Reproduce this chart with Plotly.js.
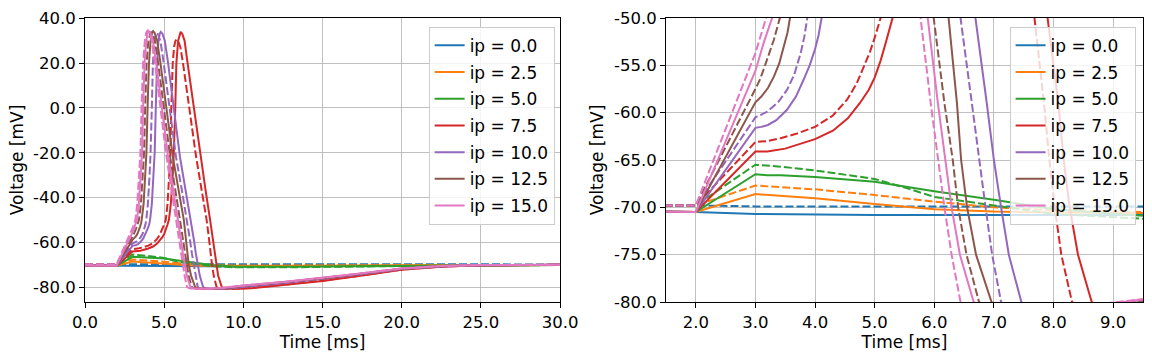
<!DOCTYPE html>
<html>
<head>
<meta charset="utf-8">
<script src="https://cdn.plot.ly/plotly-3.0.1.min.js"></script>
<style>
  html, body { margin: 0; padding: 0; background: #fff; }
  #chart { width: 1152px; height: 360px; }
</style>
</head>
<body>
<div id="chart"></div>
<script>
// time [ms] / voltage [mV], solid (s) and dashed (d) run for each ip
const t00s = [0, 2, 3, 5, 10, 15, 20, 30];
const v00s = [-70.4, -70.5, -70.7, -70.8, -70.8, -70.6, -70.4, -70.2];
const t00d = [0, 2, 3, 10, 20, 30];
const v00d = [-69.8, -69.8, -69.9, -69.9, -69.9, -69.9];

const t25s = [0, 2, 3, 3.42, 4, 5, 6, 7, 8, 9.5, 12, 15, 20, 30];
const v25s = [-70.4, -70.5, -68.6, -68.8, -69.05, -69.65, -70.2, -70.45, -70.55, -70.6, -70.6, -70.5, -70.3, -70.2];
const t25d = [0, 2, 3, 3.42, 4, 5, 6, 7, 8, 9.5, 12, 15, 20, 30];
const v25d = [-69.8, -69.8, -67.7, -67.9, -68.1, -68.7, -69.4, -70.0, -70.3, -70.5, -70.5, -70.4, -70.3, -70.2];

const t50s = [0, 2, 3, 3.2, 3.42, 4, 5, 6, 7, 8, 9.5, 11, 13, 15, 20, 25, 30];
const v50s = [-70.4, -70.5, -66.5, -66.6, -66.6, -66.8, -67.3, -68.3, -69.2, -70.2, -70.9, -71.0, -71.0, -70.8, -70.5, -70.3, -70.2];
const t50d = [0, 2, 3, 3.42, 4, 5, 5.55, 6, 7, 8, 9.5, 11, 13, 15, 20, 25, 30];
const v50d = [-69.8, -69.8, -65.5, -65.7, -66.1, -67.0, -68.0, -68.9, -69.8, -70.7, -71.2, -71.3, -71.2, -71.0, -70.6, -70.3, -70.2];

const t75s = [0, 2, 3, 3.2, 3.5, 4, 4.3, 4.55, 4.75, 4.9, 5, 5.1, 5.2, 5.3, 5.42, 5.53, 5.61, 5.7, 5.77, 5.88, 5.97, 6.04, 6.14, 6.29, 6.47, 7.3, 7.6, 7.9, 8.08, 8.17, 8.27, 8.41, 8.64, 8.8, 9.0, 9.3, 9.8, 10.5, 12.5, 15, 17.5, 20, 22.5, 25, 30];
const v75s = [-70.4, -70.5, -64.1, -64.1, -63.8, -62.8, -61.9, -60.6, -59.0, -57.6, -56.3, -54.5, -52.3, -50, -43, -31, -20, 0, 20, 30, 33.2, 34.0, 33.2, 30.0, 20.5, -22, -36, -50, -59, -65, -70, -75, -80, -80.6, -80.8, -80.9, -80.8, -80.6, -79.2, -77.3, -74.9, -72.3, -70.9, -70.3, -70.1];
const t75d = [0, 2, 3, 3.2, 3.42, 3.7, 4, 4.3, 4.54, 4.7, 4.82, 4.92, 5.0, 5.1, 5.21, 5.31, 5.39, 5.45, 5.54, 5.63, 5.71, 5.78, 5.88, 6.03, 6.23, 7.02, 7.35, 7.68, 7.84, 7.93, 8.02, 8.13, 8.31, 8.47, 8.67, 8.97, 9.47, 10, 12.5, 15, 17.5, 20, 22.5, 25, 30];
const v75d = [-69.8, -69.8, -63.1, -63.0, -62.7, -62.2, -61.5, -60.3, -58.6, -56.9, -55.1, -53.6, -52.1, -50, -43, -31, -20, 0, 20, 27.5, 30.0, 30.6, 29.9, 27.0, 18.0, -22, -36, -50, -59, -65, -70, -75, -80, -80.6, -80.8, -80.9, -80.8, -80.6, -79.0, -77.1, -74.8, -72.2, -70.8, -70.3, -70.1];

const t100s = [0, 2, 3, 3.1, 3.21, 3.35, 3.53, 3.68, 3.81, 3.91, 4.0, 4.06, 4.11, 4.22, 4.32, 4.40, 4.47, 4.55, 4.64, 4.72, 4.79, 4.89, 5.04, 5.24, 6.0, 6.35, 6.69, 6.88, 7.0, 7.12, 7.25, 7.46, 7.62, 7.82, 8.12, 8.62, 9.4, 10, 12.5, 15, 17.5, 20, 22.5, 25, 30];
const v100s = [-70.4, -70.5, -61.6, -61.5, -61.3, -60.8, -59.7, -58.3, -56.5, -55.0, -53.3, -51.8, -50, -43, -31, -20, 0, 20, 30, 33.2, 34.0, 33.2, 30.0, 20.5, -22, -36, -50, -59, -65, -70, -75, -80, -80.6, -80.8, -80.9, -80.8, -80.5, -80.0, -78.3, -76.4, -74.3, -72.0, -70.8, -70.3, -70.1];
const t100d = [0, 2, 3, 3.2, 3.38, 3.53, 3.65, 3.76, 3.82, 3.87, 3.97, 4.07, 4.14, 4.22, 4.29, 4.38, 4.46, 4.52, 4.62, 4.77, 4.97, 5.75, 6.10, 6.44, 6.63, 6.75, 6.86, 6.97, 7.12, 7.28, 7.48, 7.78, 8.28, 9.1, 10, 12.5, 15, 17.5, 20, 22.5, 25, 30];
const v100d = [-69.8, -69.8, -60.5, -59.9, -58.9, -57.6, -56.0, -53.7, -52.0, -50, -43, -31, -20, 0, 20, 30, 32.8, 33.6, 32.8, 29.6, 20.1, -22, -36, -50, -59, -65, -70, -75, -80, -80.6, -80.8, -80.9, -80.8, -80.5, -79.6, -78.1, -76.3, -74.2, -71.9, -70.7, -70.2, -70.1];

const t125s = [0, 2, 3, 3.1, 3.21, 3.31, 3.4, 3.48, 3.54, 3.58, 3.70, 3.80, 3.88, 3.95, 4.04, 4.14, 4.23, 4.30, 4.40, 4.55, 4.75, 5.55, 5.90, 6.24, 6.38, 6.45, 6.55, 6.70, 6.96, 7.12, 7.32, 7.62, 8.12, 9.0, 10, 12.5, 15, 17.5, 20, 22.5, 25, 30];
const v125s = [-70.4, -70.5, -58.9, -58.3, -57.4, -56.2, -54.8, -53.0, -51.5, -50, -43, -31, -20, 0, 20, 30, 33.5, 34.3, 33.5, 30.3, 20.8, -22, -36, -50, -59, -65, -70, -75, -80, -80.6, -80.8, -80.9, -80.8, -80.4, -79.5, -78.0, -76.2, -74.1, -71.8, -70.7, -70.2, -70.1];
const t125d = [0, 2, 3, 3.07, 3.14, 3.23, 3.31, 3.41, 3.53, 3.64, 3.73, 3.80, 3.89, 4.0, 4.09, 4.16, 4.26, 4.41, 4.61, 5.38, 5.69, 5.99, 6.17, 6.31, 6.40, 6.54, 6.75, 6.91, 7.11, 7.41, 7.91, 8.8, 10, 12.5, 15, 17.5, 20, 22.5, 25, 30];
const v125d = [-69.8, -69.8, -57.5, -56.6, -55.4, -53.8, -52.3, -50, -43, -31, -20, 0, 20, 30, 33.2, 34.0, 33.2, 30.0, 20.5, -22, -36, -50, -59, -65, -70, -75, -80, -80.6, -80.8, -80.9, -80.8, -80.4, -79.4, -77.9, -76.1, -74.0, -71.8, -70.6, -70.2, -70.1];

const t150s = [0, 2, 3, 3.14, 3.28, 3.40, 3.51, 3.60, 3.67, 3.76, 3.87, 3.96, 4.03, 4.13, 4.28, 4.48, 5.25, 5.57, 5.89, 6.06, 6.18, 6.29, 6.43, 6.66, 6.82, 7.02, 7.32, 7.82, 8.7, 10, 12.5, 15, 17.5, 20, 22.5, 25, 30];
const v150s = [-70.4, -70.5, -55.6, -52.6, -50, -43, -31, -20, 0, 20, 30, 33.5, 34.3, 33.5, 30.3, 20.8, -22, -36, -50, -59, -65, -70, -75, -80, -80.6, -80.8, -80.9, -80.8, -80.4, -79.3, -77.8, -76.0, -73.9, -71.7, -70.6, -70.2, -70.1];
const t150d = [0, 2, 3, 3.1, 3.18, 3.30, 3.42, 3.50, 3.57, 3.67, 3.78, 3.87, 3.95, 4.05, 4.20, 4.40, 5.15, 5.46, 5.77, 5.94, 6.06, 6.17, 6.29, 6.44, 6.60, 6.80, 7.10, 7.60, 8.5, 10, 12.5, 15, 17.5, 20, 22.5, 25, 30];
const v150d = [-69.8, -69.8, -53.7, -51.6, -50, -43, -31, -20, 0, 20, 30, 33.8, 34.6, 33.8, 30.6, 21.1, -22, -36, -50, -59, -65, -70, -75, -80, -80.6, -80.8, -80.9, -80.8, -80.4, -79.3, -77.8, -76.0, -73.9, -71.7, -70.6, -70.2, -70.1];

const ipLabels = ['0.0', '2.5', '5.0', '7.5', '10.0', '12.5', '15.0'];
const colors = ['#1f77b4', '#ff7f0e', '#2ca02c', '#d62728', '#9467bd', '#8c564b', '#e377c2'];

// tick labels
const leftXTicks = [0, 5, 10, 15, 20, 25, 30];
const leftXText = ['0.0', '5.0', '10.0', '15.0', '20.0', '25.0', '30.0'];
const leftYTicks = [-80, -60, -40, -20, 0, 20, 40];
const leftYText = ['-80.0', '-60.0', '-40.0', '-20.0', '0.0', '20.0', '40.0'];
const rightXTicks = [2, 3, 4, 5, 6, 7, 8, 9];
const rightXText = ['2.0', '3.0', '4.0', '5.0', '6.0', '7.0', '8.0', '9.0'];
const rightYTicks = [-80, -75, -70, -65, -60, -55, -50];
const rightYText = ['-80.0', '-75.0', '-70.0', '-65.0', '-60.0', '-55.0', '-50.0'];

const runs = [
  [t00s, v00s, t00d, v00d],
  [t25s, v25s, t25d, v25d],
  [t50s, v50s, t50d, v50d],
  [t75s, v75s, t75d, v75d],
  [t100s, v100s, t100d, v100d],
  [t125s, v125s, t125d, v125d],
  [t150s, v150s, t150d, v150d]
];

const traces = [];
[['x', 'y', 'legend'], ['x2', 'y2', 'legend2']].forEach(([xa, ya, leg]) => {
  runs.forEach((r, i) => {
    traces.push({
      x: r[0], y: r[1], type: 'scatter', mode: 'lines',
      name: 'ip = ' + ipLabels[i], legendgroup: leg + i, legend: leg,
      line: { color: colors[i], width: 2 },
      xaxis: xa, yaxis: ya, hoverinfo: 'skip'
    });
    traces.push({
      x: r[2], y: r[3], type: 'scatter', mode: 'lines',
      name: 'ip = ' + ipLabels[i], legendgroup: leg + i, legend: leg, showlegend: false,
      line: { color: colors[i], width: 2, dash: '8px,3px' },
      xaxis: xa, yaxis: ya, hoverinfo: 'skip'
    });
  });
});

const axisStyle = {
  showgrid: true, gridcolor: '#b0b0b0', gridwidth: 0.8,
  showline: true, linecolor: '#000', linewidth: 1, mirror: true,
  ticks: 'outside', ticklen: 5, tickwidth: 1, tickcolor: '#000',
  zeroline: false, automargin: false,
  tickfont: { size: 16.5 }
};

const legendStyle = {
  bgcolor: 'rgba(255,255,255,0.8)', bordercolor: '#cccccc', borderwidth: 1,
  xanchor: 'right', yanchor: 'top', y: 0.969,
  traceorder: 'grouped', tracegroupgap: 1.6,
  font: { family: 'DejaVu Sans', size: 17, color: '#000' }
};

const layout = {
  width: 1152, height: 360,
  margin: { l: 85, r: 9, t: 18, b: 58 },
  paper_bgcolor: '#fff', plot_bgcolor: '#fff',
  font: { family: 'DejaVu Sans', size: 16.5, color: '#000' },
  showlegend: true,
  xaxis: Object.assign({}, axisStyle, {
    domain: [0, 0.449], range: [0, 30], anchor: 'y',
    tickvals: leftXTicks, ticktext: leftXText,
    title: { text: 'Time [ms]', font: { size: 17 }, standoff: 0 }
  }),
  yaxis: Object.assign({}, axisStyle, {
    domain: [0, 1], range: [-86.7, 40.2], anchor: 'x',
    tickvals: leftYTicks, ticktext: leftYText,
    title: { text: 'Voltage [mV]', font: { size: 17 }, standoff: 5 }
  }),
  xaxis2: Object.assign({}, axisStyle, {
    domain: [0.5491, 1], range: [1.5, 9.5], anchor: 'y2',
    tickvals: rightXTicks, ticktext: rightXText,
    title: { text: 'Time [ms]', font: { size: 17 }, standoff: 0 }
  }),
  yaxis2: Object.assign({}, axisStyle, {
    domain: [0, 1], range: [-80, -50], anchor: 'x2',
    tickvals: rightYTicks, ticktext: rightYText,
    title: { text: 'Voltage [mV]', font: { size: 17 }, standoff: 5 }
  }),
  legend: Object.assign({}, legendStyle, { x: 0.4439 }),
  legend2: Object.assign({}, legendStyle, { x: 0.993 })
};

Plotly.newPlot('chart', traces, layout, { staticPlot: true, displayModeBar: false });
</script>
</body>
</html>
